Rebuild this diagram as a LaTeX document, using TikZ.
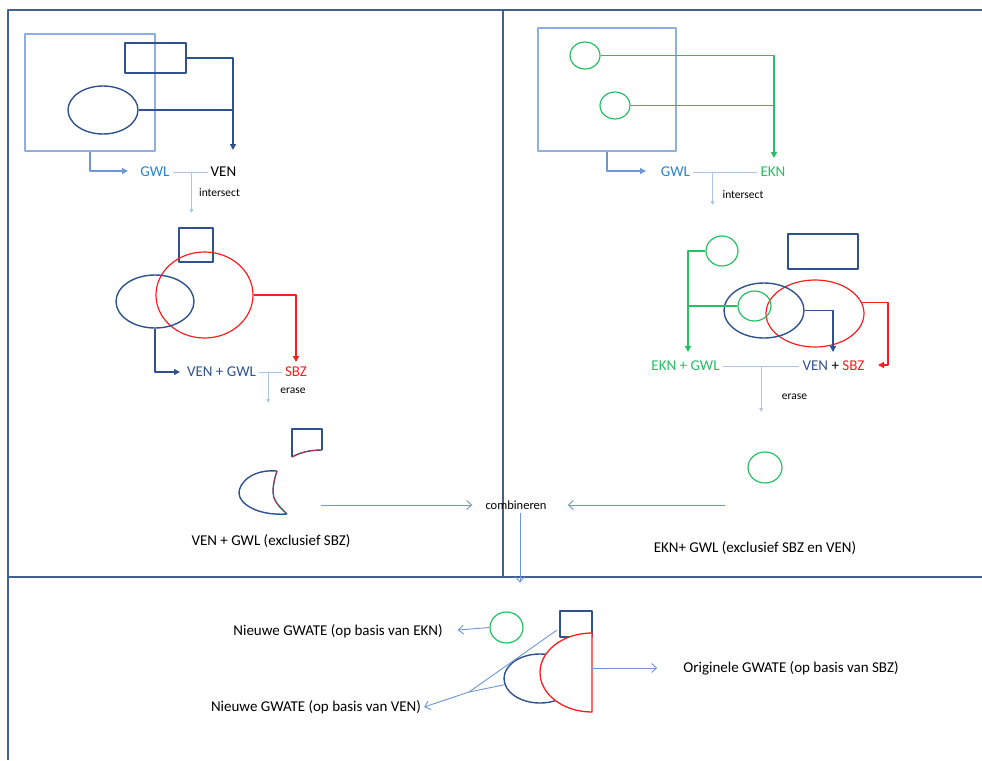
\documentclass[tikz,border=0pt]{standalone}
\usepackage{fontspec}
\setmainfont{Carlito}
\usetikzlibrary{shapes.geometric,arrows.meta}

\definecolor{venblue}{RGB}{47,82,143}
\definecolor{framecol}{RGB}{65,98,143}
\definecolor{gwlrect}{RGB}{143,175,225}
\definecolor{gwltext}{RGB}{40,130,210}
\definecolor{arrowcol}{RGB}{110,150,212}
\definecolor{joincol}{RGB}{175,195,228}
\definecolor{eknkleur}{RGB}{40,190,100}
\definecolor{sbzred}{RGB}{250,30,30}

\begin{document}
\begin{tikzpicture}[x=1pt,y=-1pt,line join=round]
  \tikzstyle{lbl}=[inner sep=3pt,font=\fontsize{15}{18}\selectfont]
  \tikzstyle{small}=[inner sep=2pt,font=\fontsize{11.5}{13}\selectfont]
  \tikzstyle{gwlbox}=[draw=gwlrect,line width=1.3pt,rectangle,inner sep=0pt]
  \tikzstyle{venbox}=[draw=venblue,line width=1.4pt,rectangle,inner sep=0pt]
  \tikzstyle{venell}=[draw=venblue,line width=1.4pt,ellipse,inner sep=0pt]
  \tikzstyle{sbzell}=[draw=sbzred,line width=1.2pt,ellipse,inner sep=0pt]
  \tikzstyle{eknell}=[draw=eknkleur,line width=1.2pt,ellipse,inner sep=0pt]
  \tikzstyle{venline}=[draw=venblue,line width=1.4pt,-{Triangle[length=6pt,width=6pt]}]
  \tikzstyle{sbzline}=[draw=sbzred,line width=1.4pt,-{Triangle[length=6pt,width=6pt]}]
  \tikzstyle{eknline}=[draw=eknkleur,line width=1.4pt,-{Triangle[length=6pt,width=6pt]}]
  \tikzstyle{gwlline}=[draw=arrowcol,line width=1.3pt,-{Triangle[length=6pt,width=6pt]}]
  \tikzstyle{joinline}=[draw=joincol,line width=0.9pt]
  \tikzstyle{downarrow}=[draw=joincol,line width=0.9pt,-{Triangle[length=4pt,width=3.5pt]}]
  \tikzstyle{thinto}=[draw=arrowcol,line width=0.9pt,-{Straight Barb[length=5pt,width=9pt]}]
  \tikzstyle{frameline}=[draw=framecol,line width=2.2pt]

  \useasboundingbox (0,0) rectangle (982,760);

  % kaders
  \draw[frameline] (8,760) -- (8,10) -- (982,10);
  \draw[frameline] (503,10) -- (503,577);
  \draw[frameline] (8,577) -- (982,577);

  % links: GWL intersect VEN
  \node[gwlbox,minimum width=130,minimum height=117] (gwl1) at (90,92.5) {};
  \node[venbox,minimum width=61,minimum height=30] (venr1) at (155.5,58) {};
  \node[venell,minimum width=70,minimum height=48] (vene1) at (103,110) {};
  \node[lbl,text=gwltext] (tgwl1) at (155,172) {GWL};
  \node[lbl] (tven1) at (223.5,172) {VEN};
  \node[small] (tint1) at (219.5,193) {intersect};
  \coordinate (gwlin1) at (128,171);
  \coordinate (venin1) at (233,150);
  \draw[gwlline] (gwl1.south) |- (gwlin1);
  \draw[venline] (venr1.east) -| (venin1);
  \draw[venline,-] (vene1.east) -- (vene1.east -| venin1);
  \draw[joinline] (tgwl1.east) -- (tven1.west) coordinate[pos=0.54] (m1);
  \draw[downarrow] (m1) -- ++(0,41);

  % links: VEN + GWL erase SBZ
  \node[venbox,minimum size=34] (venr2) at (196,245) {};
  \node[sbzell,minimum width=97,minimum height=86] (sbze2) at (204.5,295) {};
  \node[venell,minimum width=78,minimum height=53] (vene2) at (155,301.5) {};
  \node[lbl,text=venblue] (tvg2) at (221.5,372) {VEN + GWL};
  \node[lbl,text=sbzred] (tsbz2) at (296,372) {SBZ};
  \node[small] (ters2) at (293,391) {erase};
  \coordinate (sbzin2) at (296,362);
  \coordinate (venin2) at (180,372);
  \draw[sbzline] (sbze2.east) -| (sbzin2);
  \draw[venline] (vene2.south) |- (venin2);
  \draw[joinline] (tvg2.east) -- (tsbz2.west) coordinate[pos=0.4] (m2);
  \draw[downarrow] (m2) -- ++(0,31);

  % links: resultaat
  \draw[draw=venblue,line width=1.4pt] (322,450) -- (322,429) -- (292,429) -- (292,457);
  \draw[draw=venblue,line width=1.4pt] (292,457) .. controls (301,452) and (311,450) .. (322,450);
  \draw[draw=sbzred,line width=0.5pt] (292,457) .. controls (301,452) and (311,450) .. (322,450);
  \draw[draw=venblue,line width=1.4pt] (277,471) .. controls (252,469) and (239,483) .. (239,493)
    .. controls (239,504) and (258,516) .. (287,514);
  \draw[draw=venblue,line width=1.4pt] (287,514) .. controls (277,505) and (273,499) .. (273,492)
    .. controls (273,484) and (275,477) .. (277,471);
  \draw[draw=sbzred,line width=0.5pt] (287,514) .. controls (277,505) and (273,499) .. (273,492)
    .. controls (273,484) and (275,477) .. (277,471);
  \node[lbl] (tres1) at (271,541) {VEN + GWL (exclusief SBZ)};
  \coordinate (res1) at (321,505);

  % combineren
  \node[inner sep=3pt,font=\fontsize{12.5}{14}\selectfont] (comb) at (516,505) {combineren};
  \coordinate (res2) at (725,505);
  \draw[thinto,shorten >=10pt] (res1) -- (comb.west);
  \draw[thinto,shorten >=18pt] (res2) -- (comb.east);
  \draw[thinto] ([xshift=4pt]comb.south) -- ++(0,70);

  % rechts: GWL intersect EKN
  \node[gwlbox,minimum width=138,minimum height=123] (gwl3) at (607,89.5) {};
  \node[eknell,minimum width=30,minimum height=27] (ekn1) at (585,55.5) {};
  \node[eknell,minimum width=30,minimum height=27] (ekn2) at (615,105.5) {};
  \node[lbl,text=gwltext] (tgwl3) at (675.5,172) {GWL};
  \node[lbl,text=eknkleur] (tekn3) at (773,172) {EKN};
  \node[small] (tint3) at (743,195) {intersect};
  \coordinate (gwlin3) at (646,171);
  \coordinate (eknin3) at (774,158);
  \draw[gwlline] (gwl3.south) |- (gwlin3);
  \draw[eknline] (ekn1.east) -| (eknin3);
  \draw[eknline,-] (ekn2.east) -- (ekn2.east -| eknin3);
  \draw[joinline] (tgwl3.east) -- (tekn3.west) coordinate[pos=0.3] (m3);
  \draw[downarrow] (m3) -- ++(0,33);

  % rechts: EKN + GWL erase VEN + SBZ
  \node[eknell,minimum width=32,minimum height=30] (ekn3b) at (722,251) {};
  \node[venbox,minimum width=70,minimum height=35] (venr4) at (823,251.5) {};
  \node[sbzell,minimum width=98,minimum height=67] (sbze4) at (815,313.5) {};
  \node[venell,minimum width=80,minimum height=55] (vene4) at (764,310.5) {};
  \node[eknell,minimum width=33,minimum height=30] (ekn4) at (754.5,306) {};
  \node[lbl,text=eknkleur] (tekn4) at (685.5,366) {EKN + GWL};
  \node[lbl] (tvs4) at (833.5,366) {\textcolor{venblue}{VEN} + \textcolor{sbzred}{SBZ}};
  \node[small] (ters4) at (794.5,397) {erase};
  \coordinate (eknin4) at (688,352);
  \coordinate (venin4) at (833,352);
  \coordinate (sbzin4) at (878,365);
  \draw[eknline] (ekn3b.west) -| (eknin4);
  \draw[eknline,-] (ekn4.west) -- (ekn4.west -| eknin4);
  \draw[venline] (vene4.east) -| (venin4);
  \draw[sbzline] (sbze4.13) -| ([xshift=10pt]sbzin4) -- (sbzin4);
  \draw[joinline] (tekn4.east) -- (tvs4.west) coordinate[pos=0.5] (m4);
  \draw[downarrow] (m4) -- ++(0,46);

  % rechts: resultaat
  \node[eknell,minimum width=34,minimum height=31] (ekn5) at (765,467.5) {};
  \node[lbl] (tres2) at (755,548) {EKN+ GWL (exclusief SBZ en VEN)};

  % onder: nieuwe GWATE
  \node[eknell,minimum width=33,minimum height=31] (ekn6) at (506.5,627.5) {};
  \node[venell,minimum width=72,minimum height=49] (vene6) at (540,678.5) {};
  \node[venbox,minimum width=32,minimum height=26] (venr6) at (576,624) {};
  \draw[draw=sbzred,line width=1.3pt,fill=white] (592,633)
    arc[start angle=270,end angle=90,x radius=52,y radius=39.5] -- cycle;
  \node[lbl] (tekn6) at (338,631) {Nieuwe GWATE (op basis van EKN)};
  \node[lbl] (tven6) at (316,707) {Nieuwe GWATE (op basis van VEN)};
  \node[lbl] (tsbz6) at (791,668) {Originele GWATE (op basis van SBZ)};
  \coordinate (vsplit) at (469,692);
  \coordinate (sbzuit) at (592,668);
  \draw[thinto,shorten >=12pt] (ekn6.west) -- (tekn6.east);
  \draw[joinline,draw=arrowcol] (557,630) -- (vsplit);
  \draw[joinline,draw=arrowcol] (vene6.190) -- (vsplit);
  \draw[thinto] (vsplit) -- (tven6.east);
  \draw[thinto,shorten >=23pt] (sbzuit) -- (tsbz6.west);
\end{tikzpicture}
\end{document}
